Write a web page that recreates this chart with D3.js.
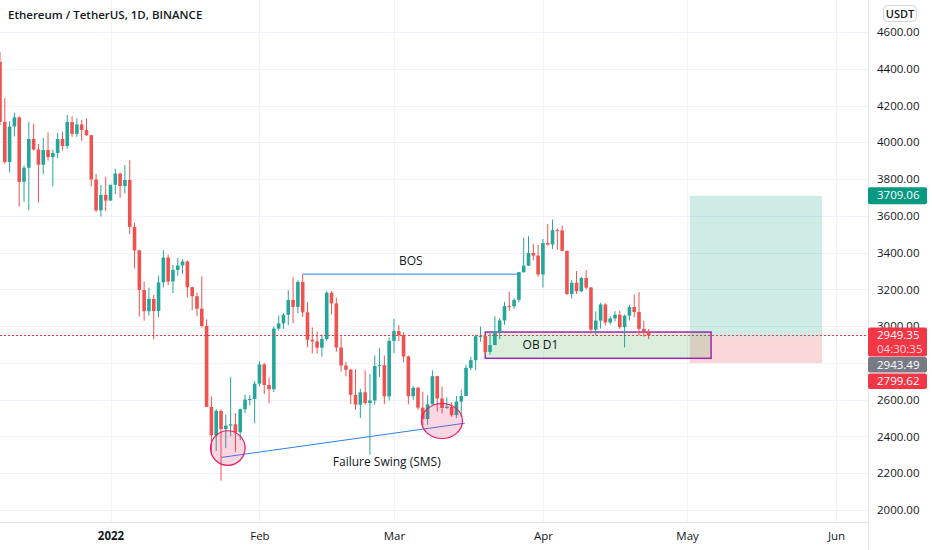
<!DOCTYPE html>
<html>
<head>
<meta charset="utf-8">
<script src="https://cdn.jsdelivr.net/npm/d3@7/dist/d3.min.js"></script>
<style>
  html, body { margin: 0; padding: 0; background: #fff; }
  svg { display: block; font-family: "Open Sans", "Noto Sans", sans-serif; }
</style>
</head>
<body>
<div id="chart"></div>
<script>
// ETH/USDT daily candles, 2021-12-09 .. 2022-04-23 (one per day)
const firstDay = '2021-12-09'
const opens = [
  4437, 4111, 3893, 4086, 4136, 3785, 3862, 4018, 3961, 3878, 3958, 3920, 3942, 4018, 3980, 4110, 4046, 4097, 4067, 4039, 3798, 3630, 3714,
  3683, 3769, 3830, 3762, 3795, 3540, 3412, 3197, 3081, 3148, 3082, 3238, 3373, 3243, 3306, 3330, 3352, 3212, 3163, 3095, 3001, 2561, 2406, 2539, 2440, 2459, 2466, 2423, 2548, 2601, 2604,
  2687, 2792, 2680, 2657, 2987, 3015, 3062, 3142, 3105, 3240, 3075, 2926, 2917, 2883, 2930, 3182, 3124, 2884, 2786, 2763, 2626, 2573, 2640, 2582, 2596, 2783, 2788, 2618,
  2920, 2973, 2951, 2835, 2619, 2665, 2557, 2495, 2575, 2728, 2607, 2555, 2561, 2516, 2590, 2620, 2773, 2815, 2945, 2946, 2860, 2897, 2971, 3031, 3109, 3108, 3143, 3294, 3329, 3398, 3384,
  3281, 3452, 3444, 3522, 3521, 3410, 3175, 3236, 3190, 3262, 3210, 2981, 3030, 3118, 3020, 3042, 3062, 2995, 3057, 3104, 3077, 2985, 2965
]
const highs = [
  4490, 4240, 4115, 4160, 4140, 3874, 4111, 4100, 3990, 4024, 4054, 3960, 4050, 4058, 4150, 4142, 4130, 4122, 4130, 4040, 3828, 3768, 3813,
  3769, 3856, 3836, 3876, 3902, 3563, 3417, 3243, 3210, 3170, 3275, 3413, 3390, 3333, 3370, 3365, 3357, 3215, 3182, 3270, 3037, 2618, 2550, 2546, 2519, 2723, 2527, 2552, 2628, 2626, 2702,
  2809, 2800, 2720, 2998, 3058, 3070, 3195, 3266, 3250, 3282, 3130, 2993, 2969, 2955, 3190, 3190, 3155, 2945, 2805, 2768, 2766, 2660, 2760, 2740, 2840, 2880, 2840, 2939,
  3040, 3005, 2967, 2840, 2674, 2670, 2644, 2624, 2760, 2730, 2671, 2613, 2585, 2620, 2655, 2790, 2833, 2954, 2998, 2955, 2965, 3054, 3044, 3132, 3189, 3150, 3295, 3480, 3489, 3447, 3443,
  3475, 3555, 3580, 3530, 3547, 3410, 3250, 3300, 3268, 3305, 3213, 3080, 3127, 3124, 3055, 3081, 3085, 3063, 3117, 3172, 3185, 3030, 2985
]
const lows = [
  4093, 3882, 3836, 4032, 3650, 3676, 3630, 3955, 3672, 3828, 3900, 3760, 3915, 3955, 3965, 4030, 4030, 4008, 4034, 3760, 3620, 3597, 3625,
  3682, 3719, 3698, 3722, 3500, 3314, 3052, 3030, 3057, 2928, 3050, 3211, 3223, 3180, 3275, 3283, 3157, 3087, 3055, 2993, 2560, 2306, 2321, 2159, 2336, 2402, 2315, 2380, 2525, 2570, 2472,
  2672, 2631, 2580, 2641, 2976, 2985, 3005, 3016, 3070, 3050, 2887, 2853, 2850, 2834, 2920, 3065, 2860, 2754, 2727, 2576, 2545, 2500, 2574, 2300, 2572, 2723, 2576, 2595,
  2853, 2919, 2803, 2575, 2599, 2545, 2460, 2463, 2573, 2535, 2525, 2550, 2507, 2500, 2505, 2620, 2760, 2760, 2915, 2840, 2845, 2897, 2930, 3007, 3083, 3094, 3129, 3290, 3327, 3358, 3269,
  3210, 3438, 3420, 3415, 3407, 3170, 3150, 3175, 3185, 3200, 2960, 2950, 2987, 3004, 3010, 3027, 2985, 2884, 3030, 3048, 2950, 2943, 2930
]
const closes = [
  4111, 3893, 4086, 4136, 3785, 3862, 4018, 3961, 3878, 3958, 3920, 3942, 4018, 3980, 4110, 4046, 4097, 4067, 4039, 3798, 3630, 3714, 3683,
  3769, 3830, 3762, 3795, 3540, 3412, 3197, 3081, 3148, 3082, 3238, 3373, 3243, 3306, 3330, 3352, 3212, 3163, 3095, 3001, 2561, 2406, 2539, 2440, 2459, 2466, 2423, 2548, 2601, 2604, 2687,
  2792, 2680, 2657, 2987, 3015, 3062, 3142, 3105, 3240, 3075, 2926, 2917, 2883, 2930, 3182, 3124, 2884, 2786, 2763, 2626, 2573, 2640, 2582, 2596, 2783, 2788, 2618, 2920,
  2973, 2951, 2835, 2619, 2665, 2557, 2495, 2575, 2728, 2607, 2555, 2561, 2516, 2590, 2620, 2773, 2815, 2945, 2946, 2860, 2897, 2971, 3031, 3109, 3108, 3143, 3294, 3329, 3398, 3384, 3281,
  3452, 3444, 3522, 3521, 3410, 3175, 3236, 3190, 3262, 3210, 2981, 3030, 3118, 3020, 3042, 3062, 2995, 3057, 3104, 3077, 2985, 2965, 2949.35
]

const priceTicks = [2000, 2200, 2400, 2600, 2800, 3000, 3200, 3400, 3600, 3800, 4000, 4200, 4400, 4600]
// 2800.00 sits under the price tags on the scale, so its label is not shown
const hiddenTickLabels = [2800]
const monthTicks = ['2022-01-01', '2022-02-01', '2022-03-01', '2022-04-01', '2022-05-01', '2022-06-01']
const monthLabels = ['2022', 'Feb', 'Mar', 'Apr', 'May', 'Jun']

// drawings
const bos = { from: '2022-02-10', to: '2022-03-27', price: 3283, label: 'BOS' }
const swing = { from: '2022-01-24T02:00Z', to: '2022-03-15T18:00Z', p1: 2286, p2: 2472, label: 'Failure Swing (SMS)', labelAt: '2022-02-27T12:00Z' }
const circles = [
  { at: '2022-01-25T10:00Z', price: 2337, rx: 17.3, ry: 17.3 },
  { at: '2022-03-11T00:00Z', price: 2484, rx: 20.5, ry: 17.5 }
]
const ob = { from: '2022-03-20', to: '2022-05-06', top: 2968, bottom: 2825, label: 'OB D1', labelAt: '2022-03-31T12:00Z' }
const longPos = { from: '2022-05-01T14:00Z', to: '2022-05-29T02:00Z', target: 3709.06, entry: 2943.49, stop: 2799.62 }
const lastPrice = 2949.35
const countdown = '04:30:35'

const W = 932, H = 550
const paneW = 868, paneH = 522

const parse = s => new Date(s.length === 10 ? s + 'T00:00:00Z' : s)
const start = parse(firstDay)
const candles = closes.map((c, i) => ({
  date: d3.utcDay.offset(start, i), o: opens[i], h: highs[i], l: lows[i], c: c
}))

const x = d3.scaleUtc()
  .domain([parse('2022-01-01'), parse('2022-06-01')])
  .range([110.5, 836])
const y = d3.scaleLinear()
  .domain([2000, 4600])
  .range([510, 32])

const svg = d3.select('#chart').append('svg')
  .attr('width', W)
  .attr('height', H)

svg.append('rect').attr('width', W).attr('height', H).attr('fill', '#fff')

svg.append('clipPath').attr('id', 'pane')
  .append('rect').attr('width', paneW).attr('height', paneH)

// grid
const grid = svg.append('g').attr('clip-path', 'url(#pane)')
grid.selectAll('line.h').data(priceTicks).enter().append('line')
  .attr('x1', 0).attr('x2', paneW)
  .attr('y1', d => Math.round(y(d)) + 0.5).attr('y2', d => Math.round(y(d)) + 0.5)
  .attr('stroke', '#f0f3fa')
grid.selectAll('line.v').data(monthTicks).enter().append('line')
  .attr('x1', d => Math.round(x(parse(d))) + 0.5).attr('x2', d => Math.round(x(parse(d))) + 0.5)
  .attr('y1', 0).attr('y2', paneH)
  .attr('stroke', '#f0f3fa')

const pane = svg.append('g').attr('clip-path', 'url(#pane)')

// long position zones
pane.append('rect')
  .attr('x', x(parse(longPos.from)))
  .attr('width', x(parse(longPos.to)) - x(parse(longPos.from)))
  .attr('y', y(longPos.target))
  .attr('height', y(longPos.entry) - y(longPos.target))
  .attr('fill', 'rgba(8,153,129,0.2)')
pane.append('rect')
  .attr('x', x(parse(longPos.from)))
  .attr('width', x(parse(longPos.to)) - x(parse(longPos.from)))
  .attr('y', y(longPos.entry))
  .attr('height', y(longPos.stop) - y(longPos.entry))
  .attr('fill', 'rgba(242,54,69,0.2)')

// order block
pane.append('rect')
  .attr('x', x(parse(ob.from)))
  .attr('width', x(parse(ob.to)) - x(parse(ob.from)))
  .attr('y', y(ob.top))
  .attr('height', y(ob.bottom) - y(ob.top))
  .attr('fill', 'rgba(76,175,80,0.2)')
  .attr('stroke', '#9c27b0')
  .attr('stroke-width', 1.5)
pane.append('text')
  .attr('x', x(parse(ob.labelAt)))
  .attr('y', (y(ob.top) + y(ob.bottom)) / 2 + 4)
  .attr('text-anchor', 'middle')
  .attr('font-size', 12)
  .attr('fill', '#131722')
  .text(ob.label)

// candles
const bodyW = 3.6
const candle = pane.selectAll('g.candle')
  .data(candles)
  .enter().append('g')
  .attr('class', 'candle')
  .attr('fill', d => d.c >= d.o ? '#26a69a' : '#ef5350')
  .attr('stroke', d => d.c >= d.o ? '#26a69a' : '#ef5350')

candle.append('line')
  .attr('x1', d => x(d.date)).attr('x2', d => x(d.date))
  .attr('y1', d => y(d.h)).attr('y2', d => y(d.l))
  .attr('stroke-width', 1)

candle.append('rect')
  .attr('x', d => x(d.date) - bodyW / 2)
  .attr('width', bodyW)
  .attr('y', d => y(Math.max(d.o, d.c)))
  .attr('height', d => Math.max(1, Math.abs(y(d.o) - y(d.c))))
  .attr('stroke', 'none')

// last price line
pane.append('line')
  .attr('x1', 0).attr('x2', paneW)
  .attr('y1', Math.round(y(lastPrice)) + 0.5).attr('y2', Math.round(y(lastPrice)) + 0.5)
  .attr('stroke', '#f23645')
  .attr('stroke-width', 1)
  .attr('stroke-dasharray', '2,2')

// BOS
pane.append('line')
  .attr('x1', x(parse(bos.from))).attr('x2', x(parse(bos.to)))
  .attr('y1', y(bos.price)).attr('y2', y(bos.price))
  .attr('stroke', '#2f80ed')
  .attr('stroke-width', 1)
pane.append('text')
  .attr('x', (x(parse(bos.from)) + x(parse(bos.to))) / 2)
  .attr('y', y(bos.price) - 9)
  .attr('text-anchor', 'middle')
  .attr('font-size', 12)
  .attr('fill', '#131722')
  .text(bos.label)

// failure swing trendline
pane.append('line')
  .attr('x1', x(parse(swing.from))).attr('y1', y(swing.p1))
  .attr('x2', x(parse(swing.to))).attr('y2', y(swing.p2))
  .attr('stroke', '#2f80ed')
  .attr('stroke-width', 1)

pane.selectAll('ellipse').data(circles).enter().append('ellipse')
  .attr('cx', d => x(parse(d.at)))
  .attr('cy', d => y(d.price))
  .attr('rx', d => d.rx)
  .attr('ry', d => d.ry)
  .attr('fill', 'rgba(233,30,99,0.18)')
  .attr('stroke', '#e91e63')
  .attr('stroke-width', 1.2)

pane.append('text')
  .attr('x', x(parse(swing.labelAt)))
  .attr('y', y(swing.p1) + 9)
  .attr('text-anchor', 'middle')
  .attr('font-size', 12)
  .attr('fill', '#131722')
  .text(swing.label)

// separators
svg.append('line').attr('x1', paneW + 0.5).attr('x2', paneW + 0.5).attr('y1', 0).attr('y2', H)
  .attr('stroke', '#e0e3eb')
svg.append('line').attr('x1', 0).attr('x2', paneW).attr('y1', paneH + 0.5).attr('y2', paneH + 0.5)
  .attr('stroke', '#e0e3eb')

// price axis
const yAxis = d3.axisRight(y)
  .tickValues(priceTicks.filter(d => !hiddenTickLabels.includes(d)))
  .tickFormat(d3.format('.2f')).tickSize(0).tickPadding(9)
const ya = svg.append('g').attr('transform', `translate(${paneW},0)`).call(yAxis)
ya.select('.domain').remove()
ya.selectAll('text').attr('font-size', 11.5).attr('fill', '#131722').attr('font-family', '"Open Sans", sans-serif')

// time axis
const xAxis = d3.axisBottom(x).tickValues(monthTicks.map(parse)).tickFormat((d, i) => monthLabels[i]).tickSize(0).tickPadding(10)
const xa = svg.append('g').attr('transform', `translate(0,${paneH})`).call(xAxis)
xa.select('.domain').remove()
xa.selectAll('text').attr('font-size', 11.5).attr('fill', '#131722').attr('font-family', '"Open Sans", sans-serif')
  .attr('font-weight', (d, i) => i === 0 ? 700 : 400)

// price labels on the scale
function priceTag (yc, h, bg, lines) {
  const g = svg.append('g')
  g.append('rect')
    .attr('x', paneW).attr('y', yc).attr('width', 59).attr('height', h)
    .attr('rx', 2).attr('fill', bg)
  lines.forEach((t, i) => {
    g.append('text')
      .attr('x', paneW + 9).attr('y', yc + 12 + i * 14)
      .attr('font-size', 11.5)
      .attr('fill', i === 0 ? '#fff' : 'rgba(255,255,255,0.8)')
      .text(t)
  })
}
priceTag(y(longPos.target) - 8.5, 17, '#089981', [d3.format('.2f')(longPos.target)])
const lastTop = y(lastPrice) - 8
priceTag(lastTop, 29, '#f23645', [d3.format('.2f')(lastPrice), countdown])
priceTag(lastTop + 29.5, 15.5, '#787b86', [d3.format('.2f')(longPos.entry)])
priceTag(lastTop + 46, 15.5, '#f23645', [d3.format('.2f')(longPos.stop)])

// currency button
svg.append('rect').attr('x', 883.5).attr('y', 5.5).attr('width', 33).attr('height', 16).attr('rx', 4)
  .attr('fill', '#fff').attr('stroke', '#d1d4dc')
svg.append('text').attr('x', 900).attr('y', 17.5).attr('text-anchor', 'middle')
  .attr('font-size', 11).attr('font-weight', 600).attr('fill', '#131722').text('USDT')

// title
svg.append('text').attr('x', 8).attr('y', 19)
  .attr('font-size', 11.5).attr('font-weight', 600).attr('fill', '#131722')
  .text('Ethereum / TetherUS, 1D, BINANCE')
</script>
</body>
</html>
